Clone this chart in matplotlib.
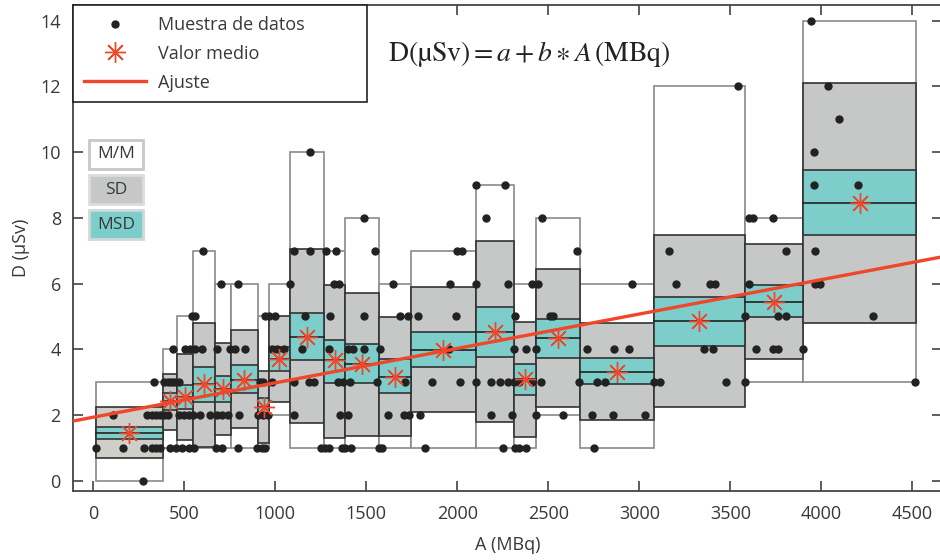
import numpy as np
import matplotlib.pyplot as plt
from matplotlib.patches import Rectangle
from matplotlib.lines import Line2D

plt.rcParams['font.family'] = ['Open Sans', 'DejaVu Sans']
plt.rcParams['mathtext.fontset'] = 'stix'

# bin edges (MBq) and box statistics
edges = [15, 380, 460, 550, 670, 755, 905, 965, 1080, 1270, 1380, 1570, 1745,
         2100, 2310, 2430, 2675, 3080, 3580, 3900, 4520]
mm_lo = [0, 1, 1, 1, 1, 1, 1, 2, 1, 1, 1, 1, 1, 1, 1, 2, 1, 3, 3, 3]
mm_hi = [3, 4, 5, 7, 6, 6, 5, 6, 10, 7, 8, 6, 7, 9, 6, 8, 6, 12, 8, 14]
sd_lo = [0.69, 1.55, 1.25, 1.02, 1.38, 1.60, 1.16, 2.41, 1.77, 1.30, 1.37, 1.37,
         2.10, 1.80, 1.32, 2.24, 1.85, 2.24, 3.70, 4.81]
sd_hi = [2.24, 3.25, 3.86, 4.79, 4.20, 4.59, 3.35, 5.02, 7.04, 5.96, 5.70, 4.98,
         5.90, 7.29, 4.84, 6.43, 4.79, 7.48, 7.20, 12.09]
msd_lo = [1.27, 2.16, 2.19, 2.41, 2.41, 2.67, 1.95, 3.35, 3.66, 2.97, 2.97, 2.67,
          3.47, 3.78, 2.61, 3.75, 2.94, 4.11, 4.99, 7.47]
msd_hi = [1.65, 2.67, 2.92, 3.47, 3.19, 3.53, 2.53, 4.06, 5.10, 4.29, 4.15, 3.70,
          4.52, 5.30, 3.56, 4.92, 3.75, 5.58, 5.96, 9.47]
means = [1.46, 2.42, 2.55, 2.94, 2.79, 3.07, 2.26, 3.71, 4.39, 3.66, 3.55, 3.17,
         3.98, 4.54, 3.09, 4.34, 3.30, 4.86, 5.45, 8.46]

# data samples: activity values at each dose level
x_at_0 = [273]
x_at_1 = [16, 163, 276, 323, 346, 368, 423, 456, 487, 524, 553, 676, 707, 793, 899,
          927, 945, 1253, 1271, 1293, 1366, 1385, 1418, 1568, 1586, 1820, 2249,
          2319, 2337, 2379, 2749]
x_at_2 = [106, 295, 323, 346, 368, 386, 408, 469, 496, 524, 548, 588, 643, 680, 707,
          738, 798, 903, 930, 957, 1101, 1357, 1397, 1619, 1705, 1732, 1793, 2185,
          2301, 2434, 2579, 2740, 2853, 3029]
x_at_3 = [335, 390, 408, 427, 445, 469, 918, 934, 982, 1101, 1183, 1210, 1342, 1372,
          1408, 1559, 1714, 1861, 2016, 2101, 2185, 2236, 2276, 2309, 2337, 2410,
          2460, 2667, 2768, 2813, 3082, 3115, 3478, 3579, 4516]
x_at_4 = [436, 505, 533, 560, 597, 680, 753, 780, 831, 982, 1009, 1046, 1147, 1293,
          1397, 1427, 1489, 1573, 1952, 2309, 2379, 2434, 2713, 2859, 2945, 3353,
          3403, 3641, 3732, 3760, 3897]
x_at_5 = [542, 560, 945, 963, 1000, 1165, 1302, 1489, 1687, 1729, 1782, 1993, 2319,
          2511, 2526, 3579, 3760, 3806, 4284]
x_at_6 = [703, 793, 1079, 1324, 1352, 1645, 1962, 2101, 2279, 2410, 2443, 2960, 3202,
          3386, 3418, 3601, 3967, 3991]
x_at_7 = [603, 1101, 1189, 1280, 1335, 1549, 1998, 2026, 2658, 3161, 3806, 3967]
x_at_8 = [1489, 2158, 2465, 3601, 3625, 3732]
x_at_9 = [2101, 2264, 3958, 4199]
x_at_10 = [1192, 3958]
x_at_11 = [4099]
x_at_12 = [3540, 4037]
x_at_14 = [3943]

# fitted line end points
fit_x = [-110, 4660]
fit_y = [1.82, 6.81]

levels = [(0, x_at_0), (1, x_at_1), (2, x_at_2), (3, x_at_3), (4, x_at_4), (5, x_at_5),
          (6, x_at_6), (7, x_at_7), (8, x_at_8), (9, x_at_9), (10, x_at_10),
          (11, x_at_11), (12, x_at_12), (14, x_at_14)]
pts_x = np.concatenate([np.array(xs, float) for _, xs in levels])
pts_y = np.concatenate([np.full(len(xs), lv, float) for lv, xs in levels])

GRAY = '#c6c7c7'
TEAL = '#7dcdcb'
RED = '#f0472a'
TXT = '#383838'

fig = plt.figure(figsize=(9.4, 5.6), dpi=100)
ax = fig.add_axes([0.078, 0.1238, 0.9236, 0.867])

for i in range(len(means)):
    x0, w = edges[i], edges[i + 1] - edges[i]
    ax.add_patch(Rectangle((x0, mm_lo[i]), w, mm_hi[i] - mm_lo[i], facecolor='white',
                           edgecolor='#8a8a8a', lw=1.2, zorder=1))
for i in range(len(means)):
    x0, w = edges[i], edges[i + 1] - edges[i]
    # first bin's SD box is a slightly warmer grey in the original
    fc = '#cfcec8' if i == 0 else GRAY
    ax.add_patch(Rectangle((x0, sd_lo[i]), w, sd_hi[i] - sd_lo[i], facecolor=fc,
                           edgecolor='#333333', lw=1.2, zorder=2))
for i in range(len(means)):
    x0, w = edges[i], edges[i + 1] - edges[i]
    ax.add_patch(Rectangle((x0, msd_lo[i]), w, msd_hi[i] - msd_lo[i], facecolor=TEAL,
                           edgecolor='#333333', lw=1.2, zorder=3))
    ax.plot([x0, x0 + w], [means[i], means[i]], color='#222222', lw=1.2, zorder=4)

ax.plot(pts_x, pts_y, 'o', color='#222222', ms=5, zorder=5, ls='none')
ax.plot(fit_x, fit_y, color=RED, lw=2.4, zorder=6)
centers = [(edges[i] + edges[i + 1]) / 2 for i in range(len(means))]
ax.plot(centers, means, ls='none', marker=(8, 2, 0), ms=15, mec=RED, mfc=RED,
        mew=1.0, zorder=7)

ax.set_xlim(-110, 4660)
ax.set_ylim(-0.3, 14.47)
ax.set_xticks(np.arange(0, 4501, 500))
ax.set_yticks(np.arange(0, 15, 2))
ax.tick_params(direction='in', length=7, width=1.1, color='#333333',
               top=True, right=True, labelsize=13, labelcolor=TXT)
ax.tick_params(axis='y', pad=9)
ax.tick_params(axis='x', pad=10)
for s in ax.spines.values():
    s.set_color('#444444')
    s.set_linewidth(1.3)
ax.set_xlabel('A (MBq)', fontsize=13, color=TXT, labelpad=10)
ax.set_ylabel('D (µSv)', fontsize=13, color=TXT, labelpad=7)

handles = [Line2D([], [], ls='none', marker='o', color='#222222', ms=5),
           Line2D([], [], ls='none', marker=(8, 2, 0), ms=15, mec=RED, mew=1.0),
           Line2D([], [], color=RED, lw=2.4)]
leg = ax.legend(handles, ['Muestra de datos', 'Valor medio', 'Ajuste'],
                loc='upper left', bbox_to_anchor=(0.0, 0.5, 0.3387, 0.5), mode='expand',
                borderaxespad=0, fancybox=False, fontsize=13, handlelength=3.4,
                handletextpad=0.7, labelspacing=0.6, borderpad=0.6, framealpha=1)
leg.get_frame().set_edgecolor('#222222')
leg.get_frame().set_linewidth(1.2)
for t in leg.get_texts():
    t.set_color(TXT)

# M/M, SD, MSD key boxes
keys = [('M/M', 'white', '#c8c8c8', 0.6982), ('SD', GRAY, '#dcdcdc', 0.6352),
        ('MSD', TEAL, '#d0d8d8', 0.5727)]
for label, fc, ec, y0 in keys:
    fig.patches.append(Rectangle((0.095, y0), 0.0568, 0.0525, transform=fig.transFigure,
                                 facecolor=fc, edgecolor=ec, lw=2, zorder=10))
    fig.text(0.095 + 0.0284, y0 + 0.026, label, ha='center', va='center',
             fontsize=12.5, color=TXT, zorder=11)

ax.text(0.525, 0.9, r'$\mathrm{D(µSv)} = a + b \ast A\,\mathrm{(MBq)}$',
        transform=ax.transAxes, ha='center', va='center', fontsize=20, color='#222222')

fig.savefig('out.png', dpi=100)
